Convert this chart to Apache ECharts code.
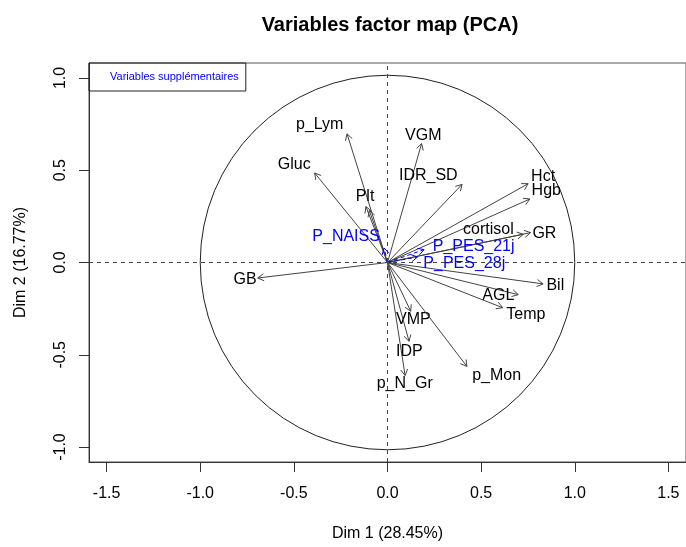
<!DOCTYPE html>
<html>
<head>
<meta charset="utf-8">
<script src="https://cdn.jsdelivr.net/npm/echarts@6/dist/echarts.min.js"></script>
<style>
html,body{margin:0;padding:0;background:#fff;}
#chart{width:686px;height:547px;}
</style>
</head>
<body>
<div id="chart"></div>
<script>
// Active variables: coordinates on Dim 1 / Dim 2 (arrow tips)
const activeNames = ['Gluc','p_Lym','Plt','','VGM','IDR_SD','Hct','Hgb','cortisol','GR','Bil','AGL','Temp','VMP','IDP','p_N_Gr','p_Mon','GB'];
const activeDim1  = [-0.389,-0.216,-0.115,-0.097, 0.182, 0.398, 0.751, 0.760, 0.725, 0.764, 0.831, 0.698, 0.615, 0.124, 0.115, 0.094, 0.424,-0.693];
const activeDim2  = [ 0.485, 0.697, 0.303, 0.282, 0.644, 0.423, 0.427, 0.344, 0.153, 0.162,-0.116,-0.174,-0.245,-0.264,-0.427,-0.612,-0.563,-0.084];
// Label anchor positions (data units) as placed in the reference
const activeLabelDim1 = [-0.498,-0.362,-0.120, 0, 0.191, 0.218, 0.831, 0.848, 0.539, 0.838, 0.896, 0.592, 0.739, 0.138, 0.117, 0.092, 0.583,-0.760];
const activeLabelDim2 = [ 0.528, 0.745, 0.355, 0, 0.688, 0.473, 0.468, 0.390, 0.180, 0.158,-0.124,-0.178,-0.284,-0.310,-0.481,-0.658,-0.614,-0.090];

// Supplementary variables
const supNames = ['P_NAISS','P_PES_21j','P_PES_28j'];
const supDim1  = [-0.018, 0.195, 0.160];
const supDim2  = [ 0.078, 0.070, 0.030];
const supLabelDim1 = [-0.221, 0.460, 0.410];
const supLabelDim2 = [ 0.140, 0.087,-0.004];

const xTicks = [-1.5,-1.0,-0.5,0.0,0.5,1.0,1.5];
const yTicks = [-1.0,-0.5,0.0,0.5,1.0];

const FONT = 'Liberation Sans, Arial, Helvetica, sans-serif';

function arrowItem(names, lx, ly, color, dashed) {
  return function (params, api) {
    const i = params.dataIndex;
    const p0 = api.coord([0, 0]);
    const p1 = api.coord([api.value(0), api.value(1)]);
    const ang = Math.atan2(p1[1] - p0[1], p1[0] - p0[0]);
    const L = 7, A = Math.PI / 6;
    const h1 = [p1[0] - L * Math.cos(ang - A), p1[1] - L * Math.sin(ang - A)];
    const h2 = [p1[0] - L * Math.cos(ang + A), p1[1] - L * Math.sin(ang + A)];
    const style = {stroke: color, lineWidth: 1, fill: null, lineDash: dashed ? [4, 3] : null};
    const children = [
      {type: 'line', shape: {x1: p0[0], y1: p0[1], x2: p1[0], y2: p1[1]}, style: style},
      {type: 'polyline', shape: {points: [h1, p1, h2]}, style: {stroke: color, lineWidth: 1, fill: null}}
    ];
    if (names[i]) {
      const lp = api.coord([lx[i], ly[i]]);
      children.push({type: 'text', x: lp[0], y: lp[1], style: {
        text: names[i], fill: dashed ? '#0000FF' : '#000', font: '16px ' + FONT,
        align: 'center', verticalAlign: 'middle'}});
    }
    return {type: 'group', children: children};
  };
}

const chart = echarts.init(document.getElementById('chart'), null, {renderer: 'canvas'});
chart.setOption({
  animation: false,
  backgroundColor: '#fff',
  title: {
    text: 'Variables factor map (PCA)', left: 385, top: 10, textAlign: 'center',
    textStyle: {fontSize: 20, fontWeight: 'bold', color: '#000', fontFamily: FONT}
  },
  legend: {
    data: ['Variables supplémentaires'], left: 89, top: 63, selectedMode: false,
    borderColor: '#222', borderWidth: 1, borderRadius: 0, padding: [7, 7, 7, 2],
    itemWidth: 14, itemHeight: 14, icon: 'rect',
    itemStyle: {color: 'rgba(0,0,0,0)', borderWidth: 0},
    textStyle: {color: '#0000FF', fontSize: 11, fontFamily: FONT}
  },
  grid: {left: 89, top: 63, width: 602, height: 408, show: true, borderColor: '#555', borderWidth: 1, containLabel: false},
  xAxis: {
    type: 'value', min: -1.594, max: 1.594,
    name: 'Dim 1 (28.45%)', nameLocation: 'middle', nameGap: 64,
    nameTextStyle: {fontSize: 16, color: '#000', fontFamily: FONT},
    axisLine: {show: true, onZero: false, lineStyle: {color: '#333'}},
    axisTick: {show: true, length: 10, customValues: xTicks, lineStyle: {color: '#333'}},
    axisLabel: {customValues: xTicks, formatter: v => v.toFixed(1), fontSize: 16, color: '#000', margin: 24, fontFamily: FONT},
    splitLine: {show: false}
  },
  yAxis: {
    type: 'value', min: -1.081, max: 1.081,
    name: 'Dim 2 (16.77%)', nameLocation: 'middle', nameGap: 60,
    nameTextStyle: {fontSize: 16, color: '#000', fontFamily: FONT},
    axisLine: {show: true, onZero: false, lineStyle: {color: '#333'}},
    axisTick: {show: true, length: 10, customValues: yTicks, lineStyle: {color: '#333'}},
    axisLabel: {customValues: yTicks, formatter: v => v.toFixed(1), rotate: 90, fontSize: 16, color: '#000', margin: 20, fontFamily: FONT},
    splitLine: {show: false}
  },
  series: [
    {
      type: 'custom', name: 'circle', silent: true, data: [[0, 0]],
      renderItem: function (params, api) {
        const c = api.coord([0, 0]);
        const r = api.size([1, 0])[0];
        return {type: 'circle', shape: {cx: c[0], cy: c[1], r: r}, style: {fill: null, stroke: '#222', lineWidth: 1}};
      },
      markLine: {
        silent: true, symbol: ['none', 'none'], label: {show: false},
        lineStyle: {color: '#444', type: [4, 4], width: 1},
        data: [{xAxis: 0}, {yAxis: 0}]
      },
      z: 1
    },
    {
      type: 'custom', name: 'actives', silent: true,
      data: activeDim1.map((v, i) => [v, activeDim2[i]]),
      renderItem: arrowItem(activeNames, activeLabelDim1, activeLabelDim2, '#444', false),
      z: 3
    },
    {
      type: 'custom', name: 'Variables supplémentaires', silent: true,
      itemStyle: {color: '#0000FF'},
      data: supDim1.map((v, i) => [v, supDim2[i]]),
      renderItem: arrowItem(supNames, supLabelDim1, supLabelDim2, '#0000FF', true),
      z: 4
    }
  ]
});
</script>
</body>
</html>
